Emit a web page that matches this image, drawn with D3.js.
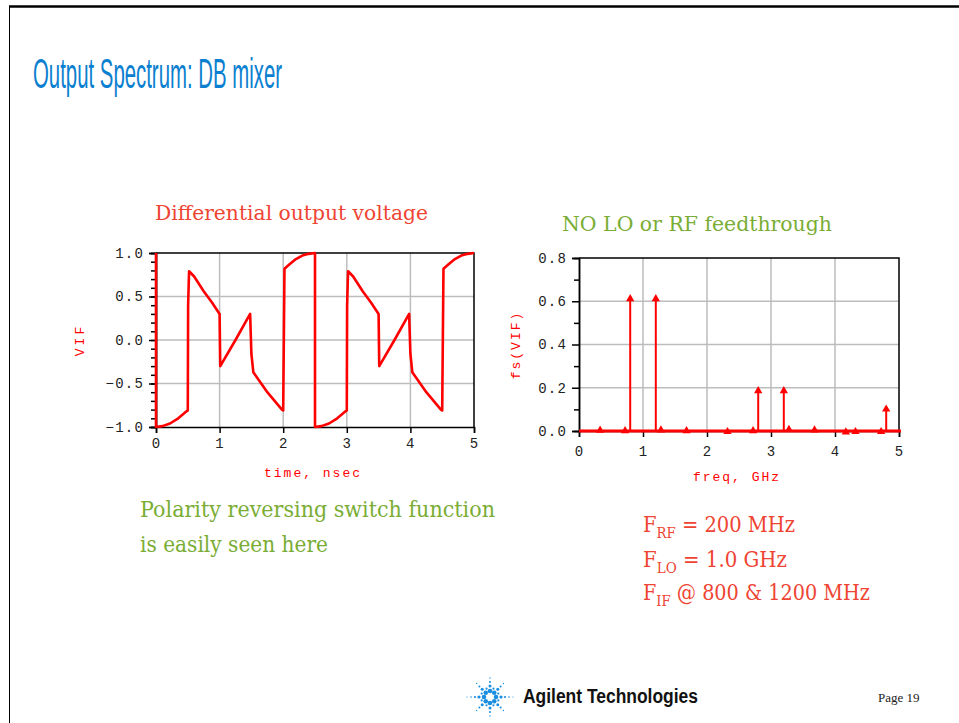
<!DOCTYPE html>
<html>
<head>
<meta charset="utf-8">
<script src="https://cdn.jsdelivr.net/npm/d3@7"></script>
<style>
body { margin: 0; background: #fff; }
svg { display: block; }
</style>
</head>
<body>
<svg width="959" height="723"></svg>
<script>
// differential output voltage, time in nsec
var timeNs = [0, 0, 0.1, 0.22, 0.35, 0.48, 0.5, 0.505, 0.52, 0.6, 0.75, 0.88, 1.0, 1.01, 1.25, 1.48, 1.5, 1.53, 1.75, 1.98, 2.0, 2.02, 2.1, 2.2, 2.3, 2.4, 2.5,
              2.5, 2.6, 2.72, 2.85, 2.98, 3.0, 3.005, 3.02, 3.1, 3.25, 3.38, 3.5, 3.51, 3.75, 3.98, 4.0, 4.03, 4.25, 4.48, 4.5, 4.52, 4.6, 4.7, 4.8, 4.9, 5.0];
var vif = [1.0, -1.0, -0.99, -0.96, -0.9, -0.82, -0.81, 0.4, 0.79, 0.73, 0.56, 0.43, 0.3, -0.3, 0.0, 0.3, -0.16, -0.37, -0.6, -0.8, -0.81, 0.82, 0.87, 0.93, 0.97, 0.99, 1.0,
           -1.0, -0.99, -0.96, -0.9, -0.82, -0.81, 0.4, 0.79, 0.73, 0.56, 0.43, 0.3, -0.3, 0.0, 0.3, -0.16, -0.37, -0.6, -0.8, -0.81, 0.82, 0.87, 0.93, 0.97, 0.99, 1.0];

// spectrum fs(VIF), freq in GHz
var freqGHz = [0.33, 0.72, 0.8, 1.2, 1.28, 1.68, 2.32, 2.72, 2.8, 3.2, 3.28, 3.68, 4.17, 4.32, 4.72, 4.8];
var fsVif = [0.012, 0.01, 0.62, 0.62, 0.014, 0.01, 0.006, 0.01, 0.195, 0.195, 0.016, 0.014, 0.004, 0.006, 0.006, 0.11];

var timeTicks = [0, 1, 2, 3, 4, 5];
var vifTicks = [-1, -0.5, 0, 0.5, 1];
var freqTicks = [0, 1, 2, 3, 4, 5];
var fsTicks = [0, 0.2, 0.4, 0.6, 0.8];

var svg = d3.select("svg");
var red = "#ff0000";
var txtRed = "#ee4433";
var txtGreen = "#7aad35";
var tickFont = "'Liberation Mono', 'DejaVu Sans Mono', monospace";
var serif = "'DejaVu Serif', 'Liberation Serif', serif";

// slide border
svg.append("line").attr("x1", 9).attr("x2", 959).attr("y1", 6.5).attr("y2", 6.5)
    .attr("stroke", "#000").attr("stroke-width", 2.5);
svg.append("line").attr("x1", 9.5).attr("x2", 9.5).attr("y1", 6).attr("y2", 723)
    .attr("stroke", "#000").attr("stroke-width", 1);

svg.append("text").attr("x", 33).attr("y", 88)
    .attr("font-family", "'Liberation Sans Narrow', 'Liberation Sans', sans-serif")
    .attr("font-size", 43).attr("fill", "#0b80d0")
    .attr("textLength", 249).attr("lengthAdjust", "spacingAndGlyphs")
    .text("Output Spectrum: DB mixer");

function drawFrame(g, x, y, xTicks, yTicks, yMinor, fmt, xPad) {
    var x0 = x.range()[0], x1 = x.range()[1];
    var y0 = y.range()[0], y1 = y.range()[1];
    // grid
    g.append("g").selectAll("line").data(xTicks.slice(1, -1)).enter().append("line")
        .attr("x1", x).attr("x2", x).attr("y1", y0).attr("y2", y1)
        .attr("stroke", "#bdbdbd").attr("stroke-width", 1.5);
    g.append("g").selectAll("line").data(yTicks.slice(1, -1)).enter().append("line")
        .attr("x1", x0).attr("x2", x1).attr("y1", y).attr("y2", y)
        .attr("stroke", "#bdbdbd").attr("stroke-width", 1.5);
    // top / right border
    g.append("path").attr("d", "M" + x0 + "," + y1 + "H" + x1 + "V" + y0)
        .attr("fill", "none").attr("stroke", "#000").attr("stroke-width", 1.5);

    g.append("g").attr("transform", "translate(0," + y0 + ")")
        .call(d3.axisBottom(x).tickValues(xTicks).tickSize(6).tickPadding(xPad).tickFormat(d3.format("d")))
        .call(styleAxis);
    g.append("g").attr("transform", "translate(" + x0 + ",0)")
        .call(d3.axisLeft(y).tickValues(yMinor).tickSize(5).tickFormat(""))
        .call(styleAxis);
    g.append("g").attr("transform", "translate(" + x0 + ",0)")
        .call(d3.axisLeft(y).tickValues(yTicks).tickSize(7).tickPadding(5).tickFormat(fmt))
        .call(styleAxis);
}

function styleAxis(a) {
    a.select(".domain").attr("stroke", "#000").attr("stroke-width", 1.5);
    a.selectAll(".tick line").attr("stroke", "#000").attr("stroke-width", 1.5);
    a.selectAll("text").attr("font-family", tickFont).attr("font-size", 14)
        .attr("fill", "#222").attr("letter-spacing", 1.2);
}

// left chart: waveform
var xT = d3.scaleLinear().domain([0, 5]).range([156, 474]);
var yV = d3.scaleLinear().domain([-1, 1]).range([427, 253]);
var gL = svg.append("g");
drawFrame(gL, xT, yV, timeTicks, vifTicks, d3.range(-10, 11).map(function (d) { return d / 10; }), d3.format(".1f"), 5);

gL.append("path")
    .datum(d3.zip(timeNs, vif))
    .attr("fill", "none").attr("stroke", red).attr("stroke-width", 2.6)
    .attr("stroke-linejoin", "round")
    .attr("d", d3.line().x(function (d) { return xT(d[0]); }).y(function (d) { return yV(d[1]); }));

gL.append("text").attr("transform", "translate(84,340) rotate(-90)")
    .attr("text-anchor", "middle").attr("font-family", tickFont).attr("font-size", 13)
    .attr("letter-spacing", 3).attr("fill", red).text("VIF");
gL.append("text").attr("x", 313).attr("y", 477)
    .attr("text-anchor", "middle").attr("font-family", tickFont).attr("font-size", 13)
    .attr("letter-spacing", 2).attr("fill", red).text("time, nsec");

// right chart: spectrum
var xF = d3.scaleLinear().domain([0, 5]).range([579, 899]);
var yS = d3.scaleLinear().domain([0, 0.8]).range([431, 258]);
var gR = svg.append("g");
drawFrame(gR, xF, yS, freqTicks, fsTicks, [0.1, 0.3, 0.5, 0.7], d3.format(".1f"), 9);

var spec = d3.zip(freqGHz, fsVif);
gR.append("g").selectAll("line").data(spec).enter().append("line")
    .attr("x1", function (d) { return xF(d[0]); }).attr("x2", function (d) { return xF(d[0]); })
    .attr("y1", yS(0)).attr("y2", function (d) { return yS(d[1]); })
    .attr("stroke", red).attr("stroke-width", 2);
gR.append("g").selectAll("path").data(spec).enter().append("path")
    .attr("d", d3.symbol(d3.symbolTriangle, 30))
    .attr("transform", function (d) { return "translate(" + xF(d[0]) + "," + (yS(d[1]) + 2) + ")"; })
    .attr("fill", red);
gR.append("line").attr("x1", xF(0)).attr("x2", xF(5) + 2).attr("y1", yS(0)).attr("y2", yS(0))
    .attr("stroke", red).attr("stroke-width", 3);

gR.append("text").attr("transform", "translate(520,345) rotate(-90)")
    .attr("text-anchor", "middle").attr("font-family", tickFont).attr("font-size", 13)
    .attr("letter-spacing", 2).attr("fill", red).text("fs(VIF)");
gR.append("text").attr("x", 737).attr("y", 481)
    .attr("text-anchor", "middle").attr("font-family", tickFont).attr("font-size", 13)
    .attr("letter-spacing", 2).attr("fill", red).text("freq, GHz");

// annotations
function note(x, y, size, color, width, str) {
    var t = svg.append("text").attr("x", x).attr("y", y)
        .attr("font-family", serif).attr("font-size", size).attr("fill", color).text(str);
    if (width) t.attr("textLength", width).attr("lengthAdjust", "spacingAndGlyphs");
    return t;
}
note(155, 220, 20, txtRed, 273, "Differential output voltage");
note(562, 231, 20, txtGreen, 270, "NO LO or RF feedthrough");
note(140, 517, 23, txtGreen, 355, "Polarity reversing switch function");
note(140, 552, 23, txtGreen, 188, "is easily seen here");

var fLines = [["RF", " = 200 MHz", 532, 152], ["LO", " = 1.0 GHz", 567, 144], ["IF", " @ 800 & 1200 MHz", 600, 227]];
fLines.forEach(function (l) {
    var t = svg.append("text").attr("x", 643).attr("y", l[2])
        .attr("font-family", serif).attr("font-size", 22).attr("fill", txtRed)
        .attr("textLength", l[3]).attr("lengthAdjust", "spacingAndGlyphs");
    t.append("tspan").text("F");
    t.append("tspan").attr("font-size", 15).attr("dy", 6).text(l[0]);
    t.append("tspan").attr("dy", -6).text(l[1]);
});

// footer: logo spark + name
var spark = svg.append("g").attr("transform", "translate(490,697)").attr("fill", "#1a8ee0");
var rays = d3.range(8).map(function (k) { return k * Math.PI / 4; });
rays.forEach(function (a) {
    var horiz = Math.abs(Math.sin(a)) < 0.01;
    var rad = horiz ? [6, 11, 15, 19, 23] : [6, 11, 15, 19];
    var sz = horiz ? [2.3, 1.6, 1.1, 0.8, 0.6] : [2.3, 1.5, 1.0, 0.7];
    rad.forEach(function (r, i) {
        spark.append("circle").attr("cx", r * Math.cos(a)).attr("cy", r * Math.sin(a)).attr("r", sz[i]);
    });
});
d3.range(8).forEach(function (k) {
    var a = k * Math.PI / 4 + Math.PI / 8;
    spark.append("circle").attr("cx", 9 * Math.cos(a)).attr("cy", 9 * Math.sin(a)).attr("r", 1.1);
});

svg.append("text").attr("x", 523).attr("y", 703)
    .attr("font-family", "'Liberation Sans Narrow', 'Liberation Sans', sans-serif")
    .attr("font-weight", "bold").attr("font-size", 20).attr("fill", "#111")
    .attr("textLength", 175).attr("lengthAdjust", "spacingAndGlyphs")
    .text("Agilent Technologies");
svg.append("text").attr("x", 878).attr("y", 702)
    .attr("font-family", "'Liberation Serif', serif").attr("font-size", 13).attr("fill", "#222")
    .text("Page 19");
</script>
</body>
</html>
